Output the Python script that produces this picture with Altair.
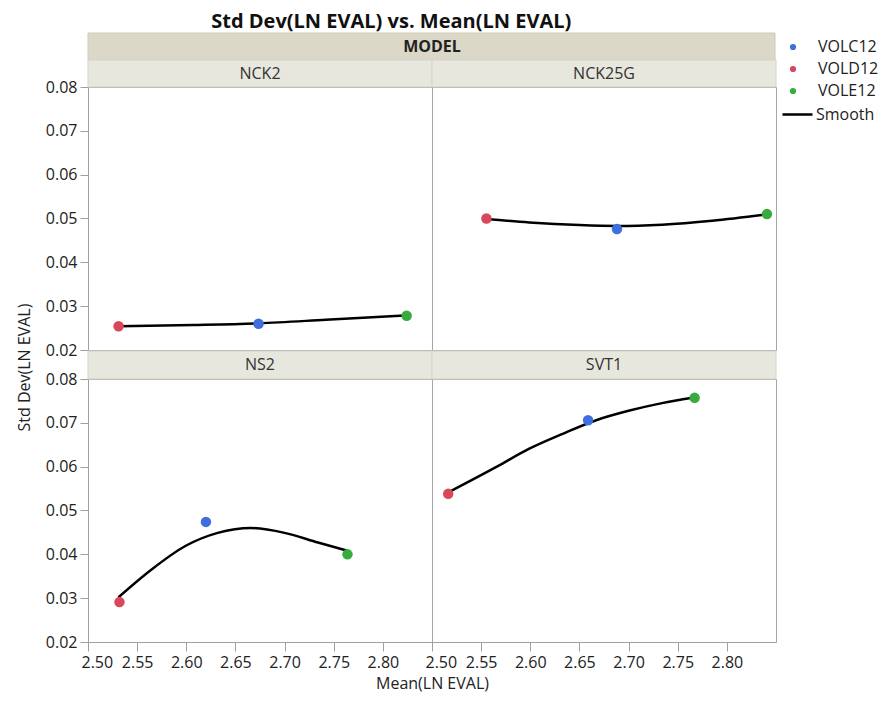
import altair as alt
import pandas as pd

MODELS = ["NCK2", "NCK25G", "NS2", "SVT1"]
GROUPS = ["VOLC12", "VOLD12", "VOLE12"]
GROUP_COLORS = ["#3f6fde", "#d9475a", "#37ab3d"]

# point values per model, ordered as GROUPS
NCK2_MEAN = [2.6735, 2.5311, 2.8242]
NCK2_SD = [0.0260, 0.0254, 0.0278]
NCK25G_MEAN = [2.6882, 2.5554, 2.8408]
NCK25G_SD = [0.0476, 0.0500, 0.0510]
NS2_MEAN = [2.6200, 2.5320, 2.7640]
NS2_SD = [0.0474, 0.0291, 0.0400]
SVT1_MEAN = [2.6588, 2.5165, 2.7672]
SVT1_SD = [0.0706, 0.0538, 0.0757]

# smooth curve values
NCK2_SMOOTH_X = [2.531, 2.607, 2.674, 2.742, 2.823]
NCK2_SMOOTH_Y = [0.0254, 0.0257, 0.0261, 0.0269, 0.0279]
NCK25G_SMOOTH_X = [2.555, 2.599, 2.650, 2.688, 2.734, 2.785, 2.839]
NCK25G_SMOOTH_Y = [0.0499, 0.0491, 0.0485, 0.0483, 0.0486, 0.0495, 0.0509]
NS2_SMOOTH_X = [2.531, 2.565, 2.599, 2.632, 2.666, 2.700, 2.734, 2.764]
NS2_SMOOTH_Y = [0.0302, 0.0366, 0.0419, 0.0449, 0.0460, 0.0449, 0.0427, 0.0408]
SVT1_SMOOTH_X = [2.518, 2.566, 2.599, 2.633, 2.667, 2.701, 2.734, 2.765]
SVT1_SMOOTH_Y = [0.0543, 0.0600, 0.0641, 0.0675, 0.0706, 0.0728, 0.0745, 0.0757]

X_TICKS = [2.50, 2.55, 2.60, 2.65, 2.70, 2.75, 2.80]
Y_TICKS = [0.02, 0.03, 0.04, 0.05, 0.06, 0.07, 0.08]

FONT = "Open Sans"
FS = 16
W, H = 344, 263

data = {
    "NCK2": (NCK2_MEAN, NCK2_SD, NCK2_SMOOTH_X, NCK2_SMOOTH_Y),
    "NCK25G": (NCK25G_MEAN, NCK25G_SD, NCK25G_SMOOTH_X, NCK25G_SMOOTH_Y),
    "NS2": (NS2_MEAN, NS2_SD, NS2_SMOOTH_X, NS2_SMOOTH_Y),
    "SVT1": (SVT1_MEAN, SVT1_SD, SVT1_SMOOTH_X, SVT1_SMOOTH_Y),
}

xscale = alt.Scale(domain=[2.5, 2.85], nice=False, zero=False)
yscale = alt.Scale(domain=[0.02, 0.08], nice=False, zero=False)


def panel(model, left, bottom, top):
    mean, sd, sx, sy = data[model]
    pts = pd.DataFrame({"mean": mean, "sd": sd, "GROUP": GROUPS})
    sm = pd.DataFrame({"mean": sx, "sd": sy, "fit": ["Smooth"] * len(sx)})
    lab = pd.DataFrame({"label": [model]})

    if bottom:
        xaxis = alt.Axis(values=X_TICKS, format=".2f", grid=False,
                         labelFlush=True, labelFlushOffset=7,
                         tickSize=9, labelPadding=3,
                         title="Mean(LN EVAL)" if left else None,
                         titleX=W, titleY=33, titleBaseline="top",
                         titleAnchor="start", titleAlign="center")
    else:
        xaxis = None
    if left:
        yaxis = alt.Axis(values=Y_TICKS, format=".2f", grid=False,
                         title="Std Dev(LN EVAL)" if bottom else None,
                         titleX=-56, titleY=-12, titleAnchor="start",
                         titleAlign="center", titleAngle=270, titleBaseline="bottom")
    else:
        yaxis = None

    x = alt.X("mean:Q", scale=xscale, axis=xaxis)
    y = alt.Y("sd:Q", scale=yscale, axis=yaxis)

    line = alt.Chart(sm).mark_line(color="black", strokeWidth=2.5, interpolate="monotone").encode(
        x=x, y=y,
        stroke=alt.Stroke("fit:N", scale=alt.Scale(domain=["Smooth"], range=["black"]),
                          legend=alt.Legend(title=None, orient="none", legendX=693, legendY=11,
                                            symbolType="stroke", symbolSize=900,
                                            symbolStrokeWidth=2.5, labelOffset=2,
                                            labelFontSize=FS, labelFont=FONT,
                                            labelColor="#222", padding=0)),
    )
    points = alt.Chart(pts).mark_circle(size=110, opacity=1).encode(
        x=x, y=y,
        fill=alt.Fill("GROUP:N", scale=alt.Scale(domain=GROUPS, range=GROUP_COLORS),
                      legend=alt.Legend(title=None, orient="none", legendX=697, legendY=-48,
                                        symbolSize=38, labelOffset=17, rowPadding=6,
                                        labelFontSize=FS, labelFont=FONT,
                                        labelColor="#222", padding=0)),
    )

    layers = []
    if top and left:
        band = alt.Chart(lab).mark_rect(fill="#dbd8c7", stroke="#cfcbb8", strokeWidth=1).encode(
            x=alt.value(0), x2=alt.value(2 * W - 1), y=alt.value(-54), y2=alt.value(-27))
        band_t = alt.Chart(lab).mark_text(text="MODEL", font=FONT, fontSize=FS,
                                          fontWeight="bold", color="#222",
                                          baseline="middle").encode(
            x=alt.value(W), y=alt.value(-40))
        layers += [band, band_t]
    strip_top = -27 if top else -28
    strip = alt.Chart(lab).mark_rect(fill="#e7e7de", stroke="#d4d4ca", strokeWidth=1).encode(
        x=alt.value(0), x2=alt.value(W), y=alt.value(strip_top), y2=alt.value(0))
    strip_t = alt.Chart(lab).mark_text(font=FONT, fontSize=FS, color="#333",
                                       baseline="middle").encode(
        text="label:N", x=alt.value(W / 2), y=alt.value(strip_top / 2))
    layers += [strip, strip_t, line, points]
    return alt.layer(*layers).properties(width=W, height=H)


chart = alt.concat(
    panel("NCK2", True, False, True),
    panel("NCK25G", False, False, True),
    panel("NS2", True, True, False),
    panel("SVT1", False, True, False),
    columns=2,
    spacing={"row": 29, "column": 0},
    bounds="flush",
).resolve_scale(fill="shared", stroke="shared").properties(
    title=alt.TitleParams("Std Dev(LN EVAL) vs. Mean(LN EVAL)", fontSize=20,
                          fontWeight="bold", font=FONT, anchor="middle", dx=-56,
                          color="#111", offset=0),
    padding={"left": 7, "top": 4, "right": 0, "bottom": 0},
).configure_view(stroke="#a6a6a6", strokeWidth=1).configure_axis(
    labelFont=FONT, labelFontSize=FS, labelColor="#222", tickSize=8, tickColor="#a0a0a0",
    domainColor="#a0a0a0", titleFont=FONT, titleFontSize=FS, titleColor="#222",
    titleFontWeight="normal", labelPadding=3,
)

chart.save("out.html", embed_options={"renderer": "svg", "actions": False})
